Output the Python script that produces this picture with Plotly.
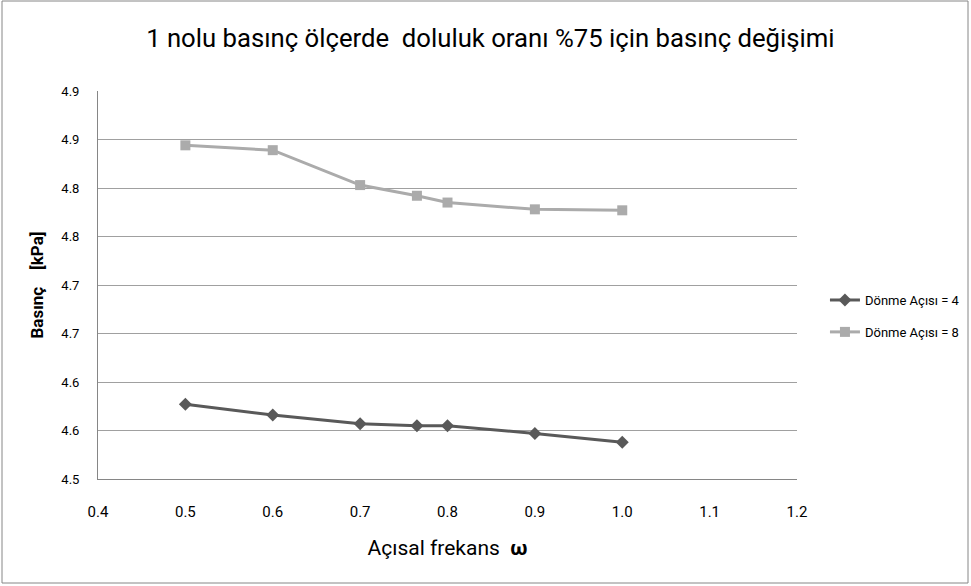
import plotly.graph_objects as go

x_vals = [0.5, 0.6, 0.7, 0.765, 0.8, 0.9, 1.0]
y_angle4 = [4.577, 4.566, 4.557, 4.555, 4.555, 4.547, 4.538]
y_angle8 = [4.844, 4.839, 4.803, 4.792, 4.785, 4.778, 4.777]
series_names = ["Dönme Açısı = 4", "Dönme Açısı = 8"]

y_tickvals = [4.50, 4.55, 4.60, 4.65, 4.70, 4.75, 4.80, 4.85, 4.90]
y_ticktext = ["4.5", "4.6", "4.6", "4.7", "4.7", "4.8", "4.8", "4.9", "4.9"]
x_tickvals = [0.4, 0.5, 0.6, 0.7, 0.8, 0.9, 1.0, 1.1, 1.2]
x_ticktext = ["0.4", "0.5", "0.6", "0.7", "0.8", "0.9", "1.0", "1.1", "1.2"]

title_text = "1 nolu basınç ölçerde  doluluk oranı %75 için basınç değişimi"
x_title = "Açısal frekans  <b>ω</b>"
y_title = "<b>Basınç    [kPa]</b>"

FONT = "Roboto, Open Sans, sans-serif"

fig = go.Figure()
fig.add_trace(go.Scatter(
    x=x_vals, y=y_angle4, name=series_names[0], mode="lines+markers",
    legendgroup="a",
    line=dict(color="#595959", width=3),
    marker=dict(symbol="diamond", size=10, color="#595959"),
))
fig.add_trace(go.Scatter(
    x=x_vals, y=y_angle8, name=series_names[1], mode="lines+markers",
    legendgroup="b",
    line=dict(color="#ABABAB", width=3),
    marker=dict(symbol="square", size=10, color="#ABABAB"),
))

fig.update_layout(
    width=971, height=586,
    margin=dict(l=98, r=174, t=91, b=107, autoexpand=False),
    paper_bgcolor="white", plot_bgcolor="white",
    font=dict(family=FONT, color="#000000"),
    title=dict(text=title_text, x=0.505, xref="container", y=0.935, yref="container",
               xanchor="center", yanchor="middle",
               font=dict(size=25.7, family=FONT, color="#000000")),
    xaxis=dict(range=[0.4, 1.2], tickvals=x_tickvals, ticktext=x_ticktext,
               showgrid=False, zeroline=False, showline=True, linecolor="#868686", linewidth=1,
               ticks="", ticklabelstandoff=19, tickfont=dict(size=15, color="#000000"),
               title=dict(text=x_title, font=dict(size=21), standoff=20)),
    yaxis=dict(range=[4.5, 4.9], tickvals=y_tickvals, ticktext=y_ticktext,
               showgrid=True, gridcolor="#A0A0A0", gridwidth=1, zeroline=False,
               showline=True, linecolor="#868686", linewidth=1,
               ticks="", ticklabelstandoff=15, tickfont=dict(size=13, color="#000000"),
               title=dict(text=y_title, font=dict(size=17), standoff=13)),
    legend=dict(x=1.04, y=0.42, xanchor="left", yanchor="middle",
                font=dict(size=13, color="#000000"), bgcolor="rgba(0,0,0,0)",
                itemwidth=30, tracegroupgap=12),
    showlegend=True,
)

fig.add_shape(type="rect", xref="paper", yref="paper",
              x0=-96/699, x1=870/699, y0=-104/388, y1=478/388,
              line=dict(color="#868686", width=1), fillcolor="rgba(0,0,0,0)", layer="below")

fig.write_html("out.html")
